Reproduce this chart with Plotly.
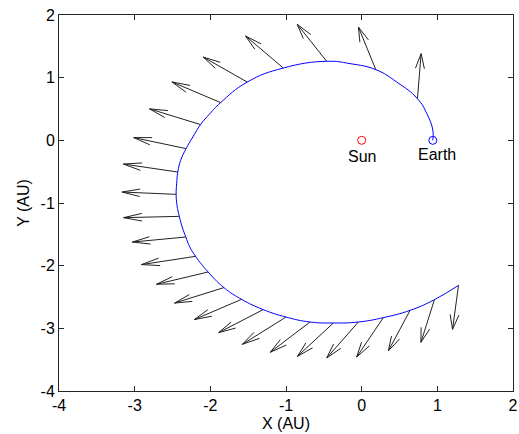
import plotly.graph_objects as go

# Trajectory (AU), read along the plotted path
traj_x = [0.94, 0.941, 0.861, 0.737, 0.464, 0.187, -0.153, -0.462, -1.036, -1.512, -1.864, -2.006,
          -2.129, -2.232, -2.320, -2.392, -2.430, -2.445, -2.452, -2.440, -2.410, -2.372, -2.324,
          -2.271, -2.195, -2.116, -2.029, -1.821, -1.587, -1.301, -1.000, -0.683, -0.374, -0.044,
          0.287, 0.640, 0.962, 1.280]
traj_y = [0.0, 0.160, 0.426, 0.665, 0.930, 1.128, 1.224, 1.261, 1.154, 0.930, 0.602, 0.426,
          0.251, 0.053, -0.132, -0.319, -0.506, -0.691, -0.862, -1.040, -1.213, -1.383, -1.543,
          -1.703, -1.851, -1.979, -2.101, -2.350, -2.537, -2.701, -2.820, -2.899, -2.915, -2.899,
          -2.829, -2.713, -2.542, -2.314]

# Thrust arrows: base points and vector components (AU)
arrow_x = [0.737, 0.187, -0.462, -1.036, -1.512, -1.864, -2.129, -2.320, -2.430, -2.452, -2.410,
           -2.324, -2.195, -2.029, -1.821, -1.587, -1.301, -1.000, -0.683, -0.374, -0.044,
           0.287, 0.640, 0.962, 1.280]
arrow_y = [0.665, 1.128, 1.261, 1.154, 0.930, 0.602, 0.251, -0.132, -0.506, -0.862, -1.213,
           -1.543, -1.851, -2.101, -2.350, -2.537, -2.701, -2.820, -2.899, -2.915, -2.899,
           -2.829, -2.713, -2.542, -2.314]
arrow_u = [0.049, -0.230, -0.389, -0.499, -0.582, -0.644, -0.675, -0.693, -0.719, -0.715, -0.737,
           -0.707, -0.715, -0.683, -0.652, -0.626, -0.588, -0.578, -0.525, -0.476, -0.418,
           -0.353, -0.287, -0.179, -0.079]
arrow_v = [0.718, 0.680, 0.590, 0.511, 0.399, 0.330, 0.251, 0.176, 0.128, 0.037, -0.021,
           -0.080, -0.132, -0.196, -0.247, -0.324, -0.367, -0.436, -0.483, -0.533, -0.574,
           -0.629, -0.646, -0.681, -0.702]

sun = (0.0, 0.0)
earth = (0.94, 0.0)

tick_vals = [-4, -3, -2, -1, 0, 1, 2]
tick_text = ["-4", "-3", "-2", "-1", "0", "1", "2"]

alpha, beta = 0.33, 0.25  # quiver-style head proportions

qx, qy = [], []
for x, y, u, v in zip(arrow_x, arrow_y, arrow_u, arrow_v):
    tx, ty = x + u, y + v
    qx += [x, tx, None]
    qy += [y, ty, None]
    qx += [tx - alpha * (u + beta * v), tx, tx - alpha * (u - beta * v), None]
    qy += [ty - alpha * (v - beta * u), ty, ty - alpha * (v + beta * u), None]

fig = go.Figure()
fig.add_trace(go.Scatter(x=traj_x, y=traj_y, mode="lines",
                         line=dict(color="#0000FF", width=1, shape="spline", smoothing=1.3),
                         hoverinfo="skip", showlegend=False))
fig.add_trace(go.Scatter(x=qx, y=qy, mode="lines", line=dict(color="#222222", width=1),
                         hoverinfo="skip", showlegend=False))
fig.add_trace(go.Scatter(x=[sun[0]], y=[sun[1]], mode="markers",
                         marker=dict(symbol="circle-open", size=8, color="#FF0000", line=dict(width=1)),
                         showlegend=False))
fig.add_trace(go.Scatter(x=[earth[0]], y=[earth[1]], mode="markers",
                         marker=dict(symbol="circle-open", size=8, color="#0000FF", line=dict(width=1)),
                         showlegend=False))

fnt = dict(family="Liberation Sans, Arial, sans-serif", size=16, color="#000000")
fig.add_annotation(x=0.0, y=-0.25, text="Sun", showarrow=False, font=fnt, xanchor="center", yanchor="middle")
fig.add_annotation(x=1.0, y=-0.22, text="Earth", showarrow=False, font=fnt, xanchor="center", yanchor="middle")

axis_common = dict(showgrid=False, zeroline=False, showline=True, linecolor="#262626", linewidth=1,
                   mirror="ticks", ticks="inside", ticklen=5, tickcolor="#262626",
                   tickfont=fnt, tickmode="array", tickvals=tick_vals, ticktext=tick_text)
fig.update_xaxes(range=[-4, 2], title=dict(text="X (AU)", font=fnt, standoff=4), **axis_common)
fig.update_yaxes(range=[-4, 2], title=dict(text="Y (AU)", font=fnt, standoff=6), **axis_common)

fig.update_layout(width=519, height=434, margin=dict(l=59, r=6, t=15, b=43, autoexpand=False),
                  plot_bgcolor="white", paper_bgcolor="white", font=fnt)

fig.write_html("out.html")
